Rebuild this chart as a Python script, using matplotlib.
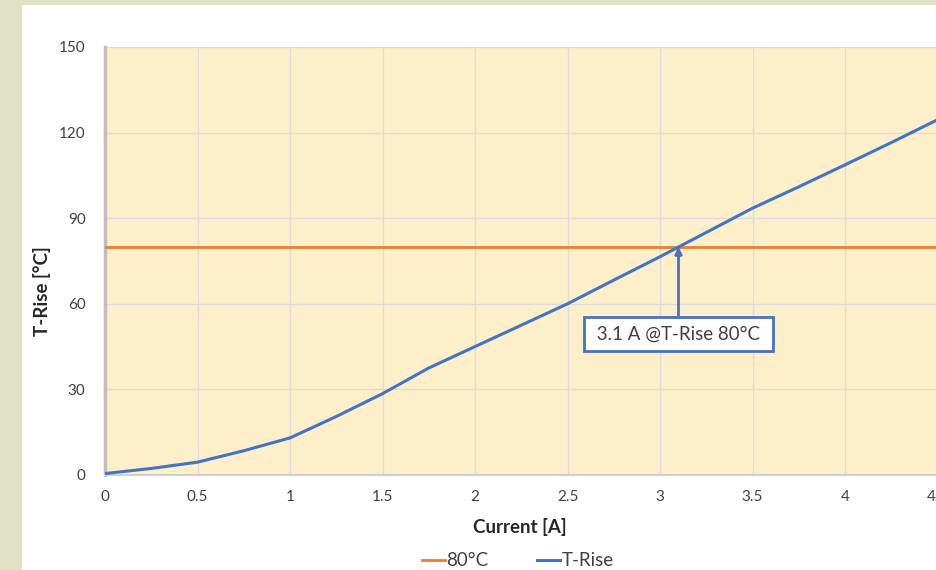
import matplotlib.pyplot as plt
from matplotlib.patches import Rectangle

# T-Rise vs current
current = [0, 0.25, 0.5, 0.75, 1.0, 1.25, 1.5, 1.75, 2.0, 2.25, 2.5,
           2.75, 3.0, 3.25, 3.5, 3.75, 4.0, 4.25, 4.5, 4.75]
t_rise = [0.5, 2.3, 4.5, 8.5, 13, 20.5, 28.5, 37.5, 45, 52.5, 60,
          68.3, 76.5, 85, 93.5, 101, 108.7, 116.5, 124.5, 132.5]
limit_temp = 80
limit_current = 3.1
xticks = [0, 0.5, 1, 1.5, 2, 2.5, 3, 3.5, 4, 4.5, 5]
xtick_labels = ['0', '0.5', '1', '1.5', '2', '2.5', '3', '3.5', '4', '4.5', '5']
yticks = [0, 30, 60, 90, 120, 150]

plt.rcParams['font.family'] = ['Lato', 'DejaVu Sans']

blue = '#4472c4'
orange = '#ed7d31'

fig = plt.figure(figsize=(9.36, 5.70), dpi=100, facecolor='#e1e1c6')
# white chart panel behind everything
fig.patches.append(Rectangle((22 / 936, 0), 1, 1 - 5 / 570, transform=fig.transFigure,
                             facecolor='white', edgecolor='none', zorder=-10))

ax = fig.add_axes([105 / 936, 95 / 570, 925 / 936, 428 / 570])
ax.set_zorder(1)
ax.set_facecolor('#fdefca')

ax.plot([0, 5], [limit_temp, limit_temp], color=orange, lw=2, label='80°C', zorder=3)
ax.plot(current, t_rise, color=blue, lw=2.2, label='T-Rise', zorder=4)

ax.set_xlim(0, 5)
ax.set_ylim(0, 150)
ax.set_xticks(xticks)
ax.set_xticklabels(xtick_labels)
ax.set_yticks(yticks)
ax.grid(True, color='#dcdcdc', lw=1)
ax.set_axisbelow(True)
ax.tick_params(length=0, labelsize=11, colors='#404040', pad=11)
ax.tick_params(axis='y', pad=14)
for s in ['top', 'right']:
    ax.spines[s].set_visible(False)
ax.spines['left'].set_color('#bfbfbf')
ax.spines['left'].set_linewidth(2.5)
ax.spines['bottom'].set_color('#d0d0d0')
ax.spines['bottom'].set_linewidth(1.5)

fig.text(42 / 936, 1 - 291 / 570, 'T-Rise [°C]', rotation=90, ha='center', va='center',
         fontsize=13.5, fontweight='bold', color='#262626')
fig.text(520 / 936, 1 - 527 / 570, 'Current [A]', ha='center', va='center',
         fontsize=13.5, fontweight='bold', color='#262626')

ax.annotate(' 3.1 A @T-Rise 80°C ', xy=(limit_current, limit_temp), xytext=(limit_current, 49.5),
            ha='center', va='center', fontsize=13.5, color='#404040',
            bbox=dict(boxstyle='square,pad=0.45', fc='white', ec=blue, lw=2),
            arrowprops=dict(arrowstyle='-|>', color=blue, lw=2, mutation_scale=10,
                            shrinkA=0, shrinkB=0), zorder=5)

fig.legend(loc='center', bbox_to_anchor=(518 / 936, 1 - 561 / 570), ncol=2, frameon=False,
           fontsize=13.5, handlelength=1.2, handletextpad=0.1, columnspacing=2.6,
           labelcolor='#404040')

fig.savefig('out.png', dpi=100, facecolor=fig.get_facecolor())
